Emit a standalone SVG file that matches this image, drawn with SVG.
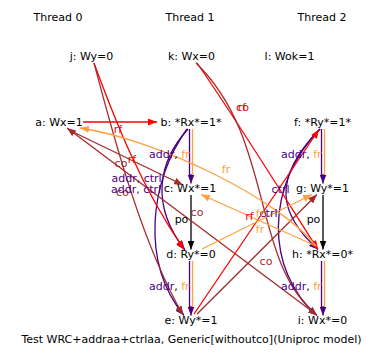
<svg xmlns="http://www.w3.org/2000/svg" width="386" height="361" viewBox="0 0 386 361">
<style>
text{font-family:"DejaVu Sans","Liberation Sans",sans-serif;font-size:11px;fill:#000}
.n{text-anchor:middle}
.e{fill:none;stroke-width:1.3}
.rf{stroke:#ff0000}.fr{stroke:#ffa040}.co{stroke:#a52a2a}.dp{stroke:#4b0082}.po{stroke:#000}
.arf{marker-end:url(#mrf)}.afr{marker-end:url(#mfr)}.aco{marker-end:url(#mco)}.adp{marker-end:url(#mdp)}.apo{marker-end:url(#mpo)}
.lrf{fill:#ff0000}.lfr{fill:#ffa040}.lco{fill:#a52a2a}.ldp{fill:#4b0082}
</style>
<defs>
<marker id="mrf" markerUnits="userSpaceOnUse" markerWidth="9" markerHeight="7" viewBox="0 0 9 7" refX="9" refY="3.5" orient="auto"><path d="M0,0L9,3.5L0,7z" fill="#ff0000"/></marker>
<marker id="mfr" markerUnits="userSpaceOnUse" markerWidth="9" markerHeight="7" viewBox="0 0 9 7" refX="9" refY="3.5" orient="auto"><path d="M0,0L9,3.5L0,7z" fill="#ffa040"/></marker>
<marker id="mco" markerUnits="userSpaceOnUse" markerWidth="9" markerHeight="7" viewBox="0 0 9 7" refX="9" refY="3.5" orient="auto"><path d="M0,0L9,3.5L0,7z" fill="#a52a2a"/></marker>
<marker id="mdp" markerUnits="userSpaceOnUse" markerWidth="9" markerHeight="7" viewBox="0 0 9 7" refX="9" refY="3.5" orient="auto"><path d="M0,0L9,3.5L0,7z" fill="#4b0082"/></marker>
<marker id="mpo" markerUnits="userSpaceOnUse" markerWidth="9" markerHeight="7" viewBox="0 0 9 7" refX="9" refY="3.5" orient="auto"><path d="M0,0L9,3.5L0,7z" fill="#000"/></marker>
</defs>
<rect width="386" height="361" fill="#fff"/>
<g id="threads">
<text class="n" x="58" y="21">Thread 0</text>
<text class="n" x="190" y="21">Thread 1</text>
<text class="n" x="322" y="21">Thread 2</text>
</g>
<g id="edges">
<!-- straight program-order edges -->
<path class="e rf arf" d="M83,122H157"/>
<path class="e dp" d="M189.5,129V175"/><path class="e fr" d="M192.5,129V175"/><path class="e dp adp" d="M191,174V183.5"/>
<path class="e po apo" d="M191,195V249.5"/>
<path class="e dp" d="M189.5,261V307"/><path class="e fr" d="M192.5,261V307"/><path class="e dp adp" d="M191,306V315.5"/>
<path class="e dp" d="M321.5,129V175"/><path class="e fr" d="M324.5,129V175"/><path class="e dp adp" d="M323,174V183.5"/>
<path class="e po apo" d="M323,195V249.5"/>
<path class="e dp" d="M321.5,261V307"/><path class="e fr" d="M324.5,261V307"/><path class="e dp adp" d="M323,306V315.5"/>
<!-- dependency curves -->
<path class="e dp adp" d="M188,129C158,162 150,205 185,250"/>
<path class="e dp adp" d="M187,129C150,180 140,262 184,315.5"/>
<path class="e dp adp" d="M320,129C270,180 280,215 318,249.5"/>
<path class="e dp adp" d="M320,129C265,185 265,270 317,315.5"/>
<!-- rf -->
<path class="e rf arf" d="M94,63C115,120 140,185 184,249.5"/>
<path class="e rf arf" d="M197,63C230,110 280,190 318,249.5"/>
<path class="e rf arf" d="M194,314L319,129.5"/>
<!-- co -->
<path class="e co aco" d="M94,63C112,130 140,240 183,315"/>
<path class="e co aco" d="M196,63C275,140 250,260 317,315.5"/>
<path class="e co aco" d="M71,131L183,185"/>
<path class="e co aco" d="M313,312L67,128"/>
<path class="e co aco" d="M197,314L317,194.5"/>
<!-- fr -->
<path class="e fr afr" d="M202,249L312,194.5"/>
<path class="e fr afr" d="M316,246L201,194.5"/>
<path class="e fr afr" d="M316,246C280,200 160,140 80,128"/>
</g>
<g id="edge-labels">
<text class="n lrf" x="118" y="132.5">rf</text>
<text class="n lco" x="121" y="166.5">co</text>
<text class="n lrf" x="132" y="163">rf</text>
<text class="n lco" x="122.5" y="196">co</text>
<text class="ldp" x="111.5" y="181.5">addr, ctrl</text>
<text class="ldp" x="111" y="193">addr, ctrl</text>
<text x="149" y="158"><tspan class="ldp">addr</tspan>, <tspan class="lfr">fr</tspan></text>
<text x="149" y="290"><tspan class="ldp">addr</tspan>, <tspan class="lfr">fr</tspan></text>
<text x="281" y="158"><tspan class="ldp">addr</tspan>, <tspan class="lfr">fr</tspan></text>
<text x="281" y="290"><tspan class="ldp">addr</tspan>, <tspan class="lfr">fr</tspan></text>
<text class="n" x="181.5" y="222.5">po</text>
<text class="n lco" x="197" y="216">co</text>
<text class="n" x="313.5" y="222.5">po</text>
<text class="n lco" x="242.5" y="111">co</text>
<text class="n lrf" x="242" y="111">rf</text>
<text class="n lfr" x="226" y="173">fr</text>
<text class="n ldp" x="280.5" y="193">ctrl</text>
<text class="n lrf" x="249.5" y="220">rf</text>
<text class="n ldp" x="268.5" y="216.5">ctrl</text>
<text class="n lfr" x="260" y="216.5">fr</text>
<text class="n lfr" x="260" y="233">fr</text>
<text class="n lco" x="266" y="265">co</text>
</g>
<g id="node-j"><text class="n" x="91.5" y="60">j: Wy=0</text></g>
<g id="node-k"><text class="n" x="191.5" y="60">k: Wx=0</text></g>
<g id="node-l"><text class="n" x="289.5" y="60">l: Wok=1</text></g>
<g id="node-a"><text class="n" x="59" y="126">a: Wx=1</text></g>
<g id="node-b"><text class="n" x="191" y="126">b: *Rx*=1*</text></g>
<g id="node-f"><text class="n" x="322.5" y="126">f: *Ry*=1*</text></g>
<g id="node-c"><text class="n" x="190" y="192">c: Wx*=1</text></g>
<g id="node-g"><text class="n" x="322.5" y="192">g: Wy*=1</text></g>
<g id="node-d"><text class="n" x="191" y="258">d: Ry*=0</text></g>
<g id="node-h"><text class="n" x="322.5" y="258">h: *Rx*=0*</text></g>
<g id="node-e"><text class="n" x="191" y="324">e: Wy*=1</text></g>
<g id="node-i"><text class="n" x="322.5" y="324">i: Wx*=0</text></g>
<text class="n" x="191.5" y="343">Test WRC+addraa+ctrlaa, Generic[withoutco](Uniproc model)</text>
</svg>
